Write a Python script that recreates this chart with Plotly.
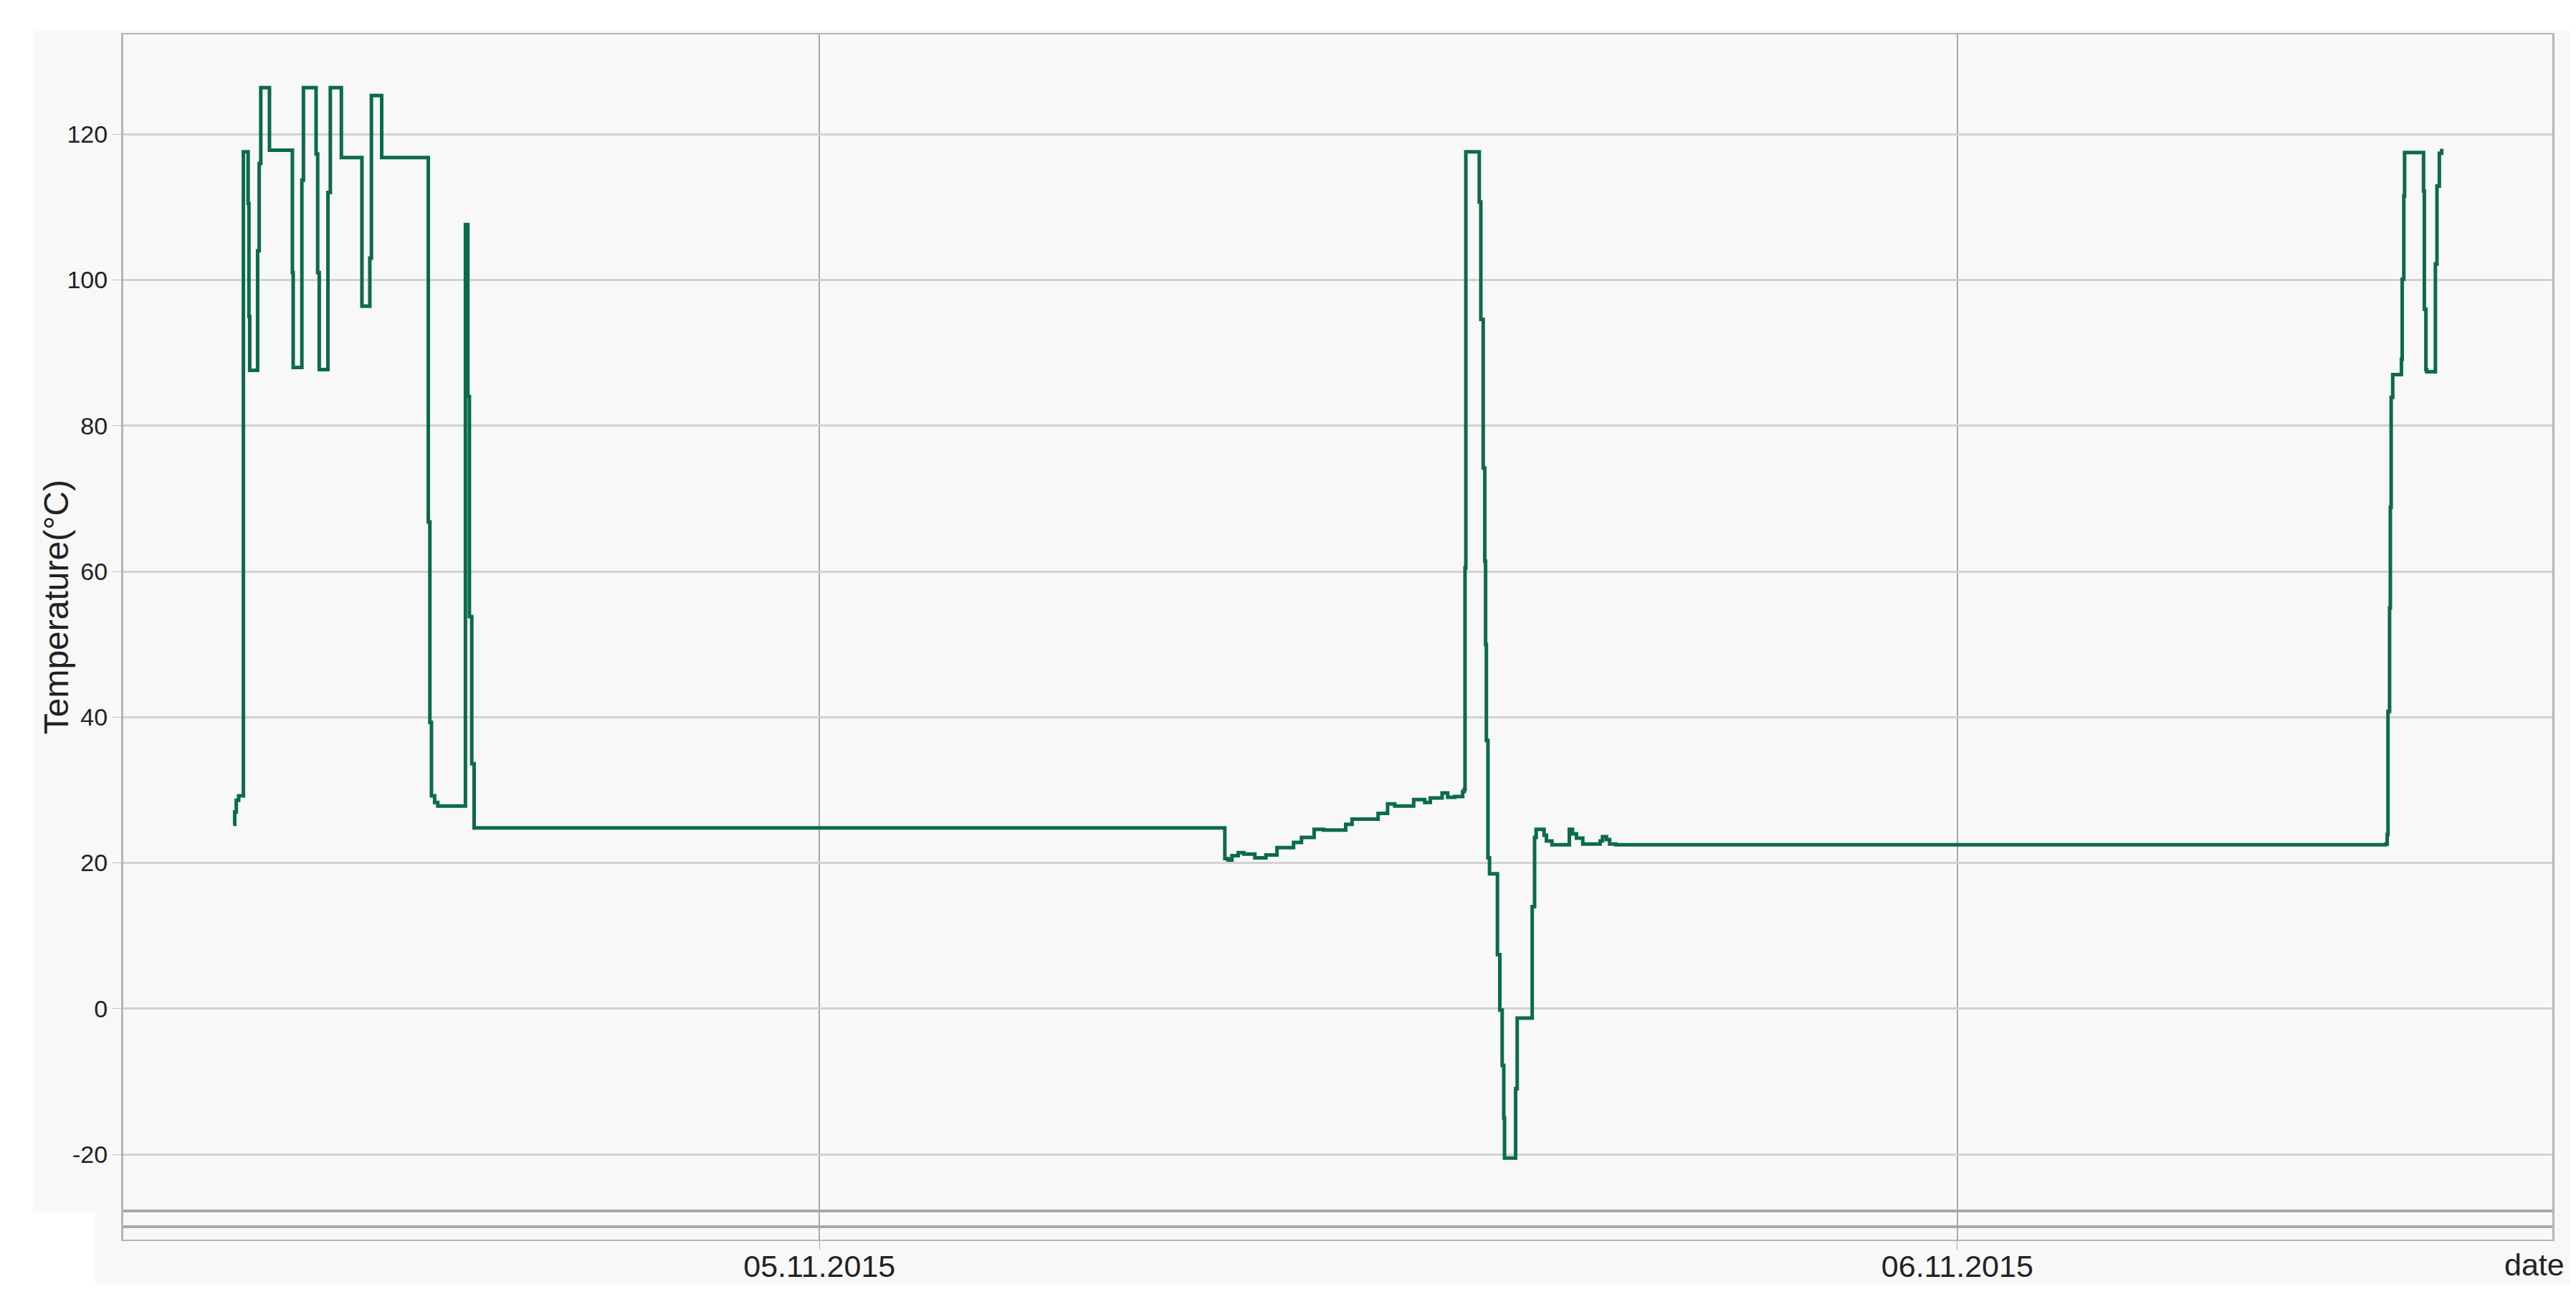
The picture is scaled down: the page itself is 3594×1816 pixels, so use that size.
import plotly.graph_objects as go

# logged temperature, step-wise (value holds until next timestamp)
times = [
    "2015-11-04 11:38", "2015-11-04 11:40", "2015-11-04 11:42", "2015-11-04 11:45",
    "2015-11-04 11:51", "2015-11-04 11:57", "2015-11-04 11:58", "2015-11-04 11:59",
    "2015-11-04 12:09", "2015-11-04 12:11", "2015-11-04 12:13", "2015-11-04 12:24",
    "2015-11-04 12:53", "2015-11-04 12:54", "2015-11-04 13:05", "2015-11-04 13:07",
    "2015-11-04 13:23", "2015-11-04 13:25", "2015-11-04 13:27", "2015-11-04 13:38",
    "2015-11-04 13:41", "2015-11-04 13:55", "2015-11-04 14:21", "2015-11-04 14:31",
    "2015-11-04 14:33", "2015-11-04 14:46", "2015-11-04 15:45", "2015-11-04 15:47",
    "2015-11-04 15:49", "2015-11-04 15:53", "2015-11-04 15:57", "2015-11-04 16:32",
    "2015-11-04 16:35", "2015-11-04 16:37", "2015-11-04 16:40", "2015-11-04 16:43",
    "2015-11-05 08:33", "2015-11-05 08:37", "2015-11-05 08:42", "2015-11-05 08:50",
    "2015-11-05 08:57", "2015-11-05 09:11", "2015-11-05 09:25", "2015-11-05 09:39",
    "2015-11-05 10:00", "2015-11-05 10:10", "2015-11-05 10:26", "2015-11-05 10:38",
    "2015-11-05 11:06", "2015-11-05 11:14", "2015-11-05 11:26", "2015-11-05 11:47",
    "2015-11-05 11:59", "2015-11-05 12:08", "2015-11-05 12:32", "2015-11-05 12:46",
    "2015-11-05 12:53", "2015-11-05 13:08", "2015-11-05 13:15", "2015-11-05 13:24",
    "2015-11-05 13:34", "2015-11-05 13:36", "2015-11-05 13:37", "2015-11-05 13:38",
    "2015-11-05 13:55", "2015-11-05 13:57", "2015-11-05 14:00", "2015-11-05 14:02",
    "2015-11-05 14:03", "2015-11-05 14:04", "2015-11-05 14:06", "2015-11-05 14:08",
    "2015-11-05 14:18", "2015-11-05 14:21", "2015-11-05 14:24", "2015-11-05 14:26",
    "2015-11-05 14:27", "2015-11-05 14:41", "2015-11-05 14:43", "2015-11-05 15:02",
    "2015-11-05 15:05", "2015-11-05 15:07", "2015-11-05 15:17", "2015-11-05 15:20",
    "2015-11-05 15:27", "2015-11-05 15:49", "2015-11-05 15:53", "2015-11-05 15:58",
    "2015-11-05 16:06", "2015-11-05 16:28", "2015-11-05 16:31", "2015-11-05 16:36",
    "2015-11-05 16:40", "2015-11-05 16:48", "2015-11-06 09:02", "2015-11-06 09:04",
    "2015-11-06 09:05", "2015-11-06 09:07", "2015-11-06 09:08", "2015-11-06 09:09",
    "2015-11-06 09:11", "2015-11-06 09:22", "2015-11-06 09:23", "2015-11-06 09:25",
    "2015-11-06 09:26", "2015-11-06 09:50", "2015-11-06 09:51", "2015-11-06 09:53",
    "2015-11-06 09:54", "2015-11-06 10:05", "2015-11-06 10:07", "2015-11-06 10:10",
    "2015-11-06 10:13",
]
temps = [
    25.3, 27.0, 28.6, 29.2,
    117.6, 110.5, 95.0, 87.6,
    104.0, 116.0, 126.4, 117.8,
    101.0, 88.0, 113.7, 126.4,
    117.3, 101.0, 87.7, 112.0,
    126.4, 116.8, 96.4, 103.0,
    125.3, 116.8, 66.8, 39.3,
    29.2, 28.3, 27.8, 107.6,
    84.0, 53.8, 33.6, 24.8,
    20.6, 20.4, 21.0, 21.4,
    21.2, 20.7, 21.1, 22.1,
    22.8, 23.5, 24.6, 24.5,
    25.3, 26.0, 26.0, 26.8,
    28.1, 27.8, 28.7, 28.3,
    28.9, 29.6, 29.0, 29.1,
    29.8, 30.1, 60.5, 117.6,
    110.7, 94.6, 74.2, 61.4,
    50.0, 36.8, 20.7, 18.5,
    7.4, -0.2, -7.8, -15.0,
    -20.5, -11.0, -1.3, 14.0,
    23.5, 24.6, 23.8, 23.0,
    22.5, 24.6, 24.0, 23.4,
    22.6, 23.0, 23.6, 23.2,
    22.6, 22.5, 22.6, 23.9,
    40.8, 55.0, 68.8, 83.9,
    87.0, 89.1, 100.1, 111.5,
    117.5, 112.2, 96.0, 87.7,
    87.4, 102.2, 112.9, 117.4,
    118.0,
]

y_ticks = [-20, 0, 20, 40, 60, 80, 100, 120]
y_ticktext = ["-20", "0", "20", "40", "60", "80", "100", "120"]
x_range = ["2015-11-04 09:19", "2015-11-06 12:33"]
y_range = [-31.7, 133.7]

fig = go.Figure()
fig.add_trace(go.Scatter(
    x=times, y=temps, mode="lines", line_shape="hv",
    line=dict(color="#0b6c47", width=5), showlegend=False,
))

# light grey panels around the plot, like the original screenshot
bg = "#f8f8f8"
shapes = [
    dict(type="rect", xref="paper", yref="paper", x0=-0.037, x1=1.010, y0=0.0232, y1=1.003,
         fillcolor=bg, line_width=0, layer="below"),
    dict(type="rect", xref="paper", yref="paper", x0=-0.0115, x1=1.010, y0=-0.037, y1=0.0232,
         fillcolor=bg, line_width=0, layer="below"),
    # scroll-bar like double rule at the bottom of the plot
    dict(type="line", xref="paper", yref="paper", x0=0, x1=1, y0=0.0238, y1=0.0238,
         line=dict(color="#a8a8a8", width=4)),
    dict(type="line", xref="paper", yref="paper", x0=0, x1=1, y0=0.0107, y1=0.0107,
         line=dict(color="#a8a8a8", width=4)),
]

fig.update_layout(
    width=3594, height=1816,
    margin=dict(l=164, r=41, t=40, b=95),
    paper_bgcolor="white",
    plot_bgcolor="#fafafa",
    font=dict(family="Liberation Sans, Arial, sans-serif", color="#222222"),
    shapes=shapes,
    annotations=[
        dict(text="date", xref="paper", yref="paper", x=1.0056, y=-0.0208,
             xanchor="right", yanchor="middle", showarrow=False,
             font=dict(size=43, color="#222222")),
        dict(text="Temperature(°C)", xref="paper", yref="paper", x=-0.0275, y=0.525,
             xanchor="center", yanchor="middle", textangle=-90, showarrow=False,
             font=dict(size=48, color="#222222")),
    ],
)
fig.update_xaxes(
    range=x_range, type="date", tick0="2015-11-05", dtick=86400000,
    tickformat="%d.%m.%Y", tickfont=dict(size=43),
    showgrid=True, gridcolor="#a8a8a8", gridwidth=1.5,
    ticks="outside", ticklen=12, tickcolor="#a8a8a8", ticklabelstandoff=-14,
    showline=True, linecolor="#b5b5b5", linewidth=2, mirror=True,
    zeroline=False, automargin=False,
)
fig.update_yaxes(
    range=y_range, tickvals=y_ticks, ticktext=y_ticktext, tickfont=dict(size=34),
    showgrid=True, gridcolor="#d2d2d2", gridwidth=2.5,
    ticks="outside", ticklen=12, tickcolor="#c0c0c0",
    showline=True, linecolor="#b5b5b5", linewidth=3, mirror=True,
    zeroline=False, automargin=False,
)

fig.write_html("out.html")
